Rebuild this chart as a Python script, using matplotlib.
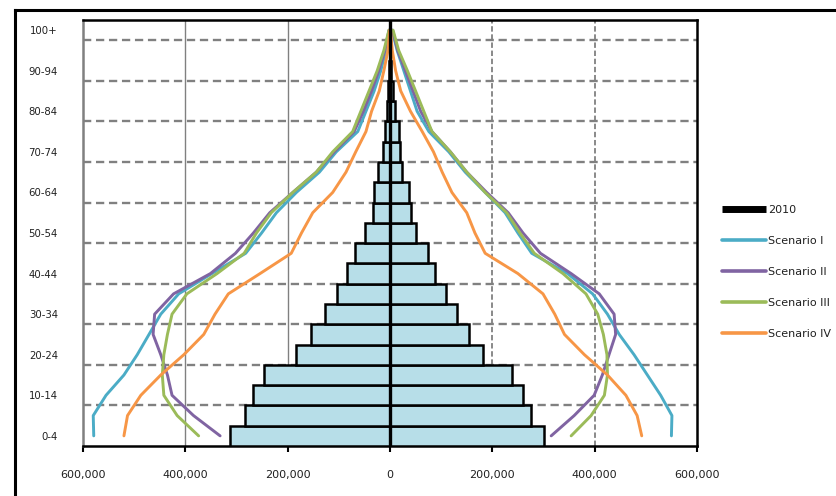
import matplotlib
matplotlib.use("Agg")
import matplotlib.pyplot as plt
from matplotlib.lines import Line2D
from matplotlib.ticker import FuncFormatter
import numpy as np

# ---------------- data ----------------
age_groups = ['0-4', '5-9', '10-14', '15-19', '20-24', '25-29', '30-34', '35-39',
              '40-44', '45-49', '50-54', '55-59', '60-64', '65-69', '70-74',
              '75-79', '80-84', '85-89', '90-94', '95-99', '100+']

male_2010 = [312000, 283000, 268000, 246000, 183000, 155000, 128000, 103500,
             84000, 69000, 48500, 33600, 30400, 22700, 13000, 9700, 6000, 3000,
             1200, 300, 50]
female_2010 = [300800, 275000, 259000, 238000, 181000, 154000, 131000, 110000,
               88700, 74400, 50500, 40100, 37500, 22600, 19400, 17500, 10000,
               5500, 2000, 500, 80]

s1_male = [579000, 580000, 555000, 520000, 494000, 471000, 448000, 413000, 348000,
           282000, 251000, 222000, 183000, 138000, 105000, 63000, 47000, 31000,
           18000, 8000, 1500]
s1_female = [550000, 551000, 529000, 503000, 477000, 448000, 425000, 396000, 347000,
             277000, 250000, 225000, 186000, 147000, 115000, 76000, 53000, 40000,
             27000, 14000, 4000]

s2_male = [332000, 384000, 426000, 435000, 448000, 463000, 460000, 423000, 351000,
           302000, 267000, 235000, 190000, 144000, 109000, 70000, 52000, 36000,
           22000, 10000, 2000]
s2_female = [315000, 360000, 399000, 415000, 428000, 441000, 438000, 409000, 354000,
             294000, 260000, 231000, 189000, 150000, 118000, 82000, 60000, 45000,
             30000, 15000, 5000]

s3_male = [374000, 416000, 442000, 445000, 442000, 435000, 426000, 397000, 338000,
           285000, 261000, 232000, 190000, 144000, 112000, 73000, 57000, 41000,
           25000, 12000, 2000]
s3_female = [354000, 393000, 419000, 425000, 424000, 417000, 406000, 383000, 338000,
             282000, 254000, 228000, 186000, 150000, 118000, 82000, 66000, 50000,
             34000, 17000, 6000]

s4_male = [520000, 513000, 487000, 448000, 403000, 364000, 342000, 316000, 254000,
           193000, 173000, 151000, 112000, 86000, 67000, 47000, 36000, 21000,
           12000, 4000, 500]
s4_female = [492000, 483000, 461000, 425000, 380000, 341000, 322000, 299000, 250000,
             186000, 166000, 150000, 121000, 102000, 85000, 63000, 40000, 21000,
             11000, 4500, 1000]

x_ticks = [-600000, -400000, -200000, 0, 200000, 400000, 600000]
series_labels = ['2010', 'Scenario I', 'Scenario II', 'Scenario III', 'Scenario IV']

# ---------------- styling ----------------
W, H = 837, 496
fig = plt.figure(figsize=(W / 100, H / 100), dpi=100)
fig.patch.set_facecolor('white')

ax_l, ax_r, ax_t, ax_b = 83, 697, 20, 446
ax = fig.add_axes([ax_l / W, 1 - ax_b / H, (ax_r - ax_l) / W, (ax_b - ax_t) / H])

y = np.arange(len(age_groups))
grid_gray = '#808080'
bar_fill = '#B7DEE8'
colors = ['#4BACC6', '#8064A2', '#9BBB59', '#F79646']

# gridlines
ax.set_yticks(np.arange(1.5, len(age_groups) - 1, 2), minor=True)
ax.grid(axis='y', which='minor', color=grid_gray, linestyle=(0, (3.5, 2)), linewidth=1.7, zorder=0)
for xv in x_ticks[1:3]:
    ax.axvline(xv, color=grid_gray, linewidth=1.0, zorder=0)
for xv in x_ticks[4:6]:
    ax.axvline(xv, color=grid_gray, linewidth=1.3, linestyle=(0, (3, 1.5)), zorder=0)

# scenario lines (male mirrored to the left)
scen = [(s1_male, s1_female), (s2_male, s2_female), (s3_male, s3_female), (s4_male, s4_female)]
handles = []
for (m, f), c, lab in zip(scen, colors, series_labels[1:]):
    ax.plot(-np.array(m), y, color=c, linewidth=2.1, solid_capstyle='round', zorder=2)
    ax.plot(np.array(f), y, color=c, linewidth=2.1, solid_capstyle='round', zorder=2)
    handles.append(Line2D([], [], color=c, linewidth=2.6, solid_capstyle='round', label=lab))

# 2010 bars
ax.barh(y, -np.array(male_2010), height=1.0, color=bar_fill, edgecolor='black', linewidth=1.8, zorder=3)
ax.barh(y, np.array(female_2010), height=1.0, color=bar_fill, edgecolor='black', linewidth=1.8, zorder=3)
ax.axvline(0, color='black', linewidth=2.4, zorder=4)
handles.insert(0, Line2D([], [], color='black', linewidth=5, solid_capstyle='butt', label=series_labels[0]))

ax.set_xlim(x_ticks[0], x_ticks[-1])
ax.set_ylim(-0.5, len(age_groups) - 0.5)

ax.set_xticks(x_ticks)
ax.xaxis.set_major_formatter(FuncFormatter(lambda v, p: f"{abs(int(v)):,}"))
ax.set_yticks(y[::2])
ax.set_yticklabels(age_groups[::2])
ax.tick_params(axis='x', which='major', direction='out', length=4, width=1.5,
               color='black', labelsize=8, pad=13, labelcolor='#202020')
ax.tick_params(axis='y', which='both', length=0, labelsize=7.3, pad=18, labelcolor='#202020')
ax.tick_params(axis='y', which='minor', length=0)

for s in ['top', 'right', 'bottom']:
    ax.spines[s].set_color('black')
    ax.spines[s].set_linewidth(1.8)
ax.spines['left'].set_color(grid_gray)
ax.spines['left'].set_linewidth(1.8)

# legend
leg = ax.legend(handles=handles, loc='upper left',
                bbox_to_anchor=(722 / W, 1 - 205 / H), bbox_transform=fig.transFigure,
                frameon=False, fontsize=8, handlelength=4.0, handletextpad=0.15,
                labelspacing=1.88, borderpad=0, borderaxespad=0)
for t in leg.get_texts():
    t.set_color('#202020')

# outer chart frame
fig.add_artist(Line2D([15 / W, 15 / W], [0, 1 - 10 / H], color='black', linewidth=2.2,
                      transform=fig.transFigure))
fig.add_artist(Line2D([15 / W, 1], [1 - 10 / H, 1 - 10 / H], color='black', linewidth=2.2,
                      transform=fig.transFigure))

fig.savefig('out.png', dpi=100)
